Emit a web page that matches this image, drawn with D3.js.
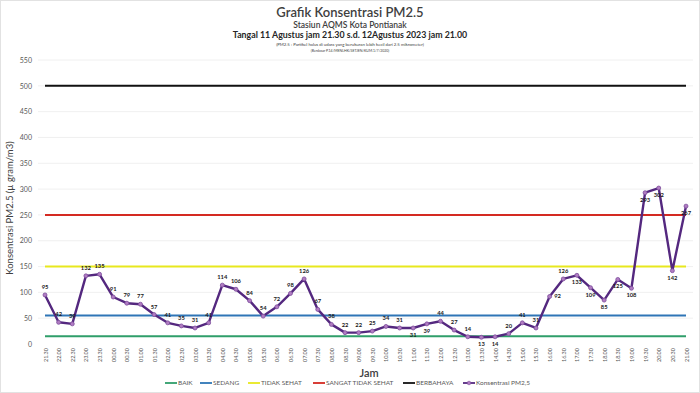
<!DOCTYPE html>
<html>
<head>
<meta charset="utf-8">
<script src="https://cdn.jsdelivr.net/npm/d3@7/dist/d3.min.js"></script>
<style>
  html, body { margin: 0; padding: 0; background: #fff; }
  svg { display: block; font-family: Lato, "Open Sans", sans-serif; }
</style>
</head>
<body>
<svg id="chart" width="700" height="393"></svg>
<script>
// ---- data ----
const times = ["21.30","22.00","22.30","23.00","23.30","00.00","00.30","01.00","01.30","02.00","02.30","03.00","03.30","04.00","04.30","05.00","05.30","06.00","06.30","07.00","07.30","08.00","08.30","09.00","09.30","10.00","10.30","11.00","11.30","12.00","12.30","13.00","13.30","14.00","14.30","15.00","15.30","16.00","16.30","17.00","17.30","18.00","18.30","19.00","19.30","20.00","20.30","21.00"];
const pm25 = [95,42,39,132,135,91,79,77,57,41,35,31,41,114,106,84,54,72,98,126,67,38,22,22,25,34,31,31,39,44,27,14,13,14,20,41,31,92,126,133,109,85,125,108,293,302,142,267];
const thresholdNames = ["BAIK","SEDANG","TIDAK SEHAT","SANGAT TIDAK SEHAT","BERBAHAYA"];
const thresholdValues = [15,55,150,250,500];
const yTicks = [0,50,100,150,200,250,300,350,400,450,500,550];
const seriesName = "Konsentrasi PM2,5";

// label placement (style): t = above, b = below, r = right
const labelPos = ["t","t","t","t","t","t","t","t","t","t","t","t","t","t","t","t","t","t","t","t","t","t","t","t","t","t","t","b","b","t","t","t","b","b","t","t","t","r","t","b","b","b","b","b","b","b","b","b"];

// ---- styles ----
const thresholdColors = ["#2f9e6a","#2e75b6","#e8e81e","#d42a22","#111111"];
const lineColor = "#54287f";
const markerFill = "#b07cc2";
const markerStroke = "#7c4c9c";

const svg = d3.select("#chart");
const W = 700, H = 393;
const plot = {left: 38, right: 693, top: 60, bottom: 344};

svg.append("rect").attr("x",0.5).attr("y",0.5).attr("width",W-1).attr("height",H-1)
  .attr("fill","#fff").attr("stroke","#e2e2e2");

// titles
const tg = svg.append("g").attr("fill","#404040").attr("text-anchor","middle");
tg.append("text").attr("x",350).attr("y",17).attr("font-size",13).attr("font-weight",600).text("Grafik Konsentrasi PM2.5");
tg.append("text").attr("x",350).attr("y",27.5).attr("font-size",8.5).attr("font-weight",600).text("Stasiun AQMS Kota Pontianak");
tg.append("text").attr("x",350).attr("y",38).attr("font-size",8.8).attr("font-weight",700).attr("fill","#262626").text("Tangal 11 Agustus jam  21.30 s.d. 12Agustus 2023 jam 21.00");
tg.append("text").attr("x",350).attr("y",46).attr("font-size",4.3).text("(PM2.5 : Partikel halus di udara yang berukuran lebih kecil dari 2.5 mikrometer)");
tg.append("text").attr("x",350).attr("y",52).attr("font-size",3.5).text("(Berdasar P.14/MENLHK/SETJEN/KUM.1/7/2020)");

// scales
const x = d3.scalePoint().domain(times).range([45, 686]);
const y = d3.scaleLinear().domain([0,550]).range([plot.bottom, plot.top]);

// gridlines
svg.append("g").selectAll("line").data(yTicks.filter(d=>d>0)).join("line")
  .attr("x1",plot.left).attr("x2",plot.right)
  .attr("y1",d=>y(d)).attr("y2",d=>y(d))
  .attr("stroke","#ececec").attr("stroke-width",0.8);

// y axis
const yAxis = d3.axisLeft(y).tickValues(yTicks).tickSize(0).tickPadding(0);
const yg = svg.append("g").attr("transform",`translate(32,0)`).call(yAxis);
yg.select(".domain").remove();
yg.selectAll("text").attr("font-size",7).attr("fill","#595959").attr("font-family","Lato, sans-serif");

// y title
svg.append("text").attr("transform","translate(13,208) rotate(-90)")
  .attr("text-anchor","middle").attr("font-size",9.5).attr("fill","#404040")
  .text("Konsentrasi PM2.5 (µ gram/m3)");

// x axis
const xAxis = d3.axisBottom(x).tickSize(0).tickPadding(0);
const xg = svg.append("g").attr("transform",`translate(0,${plot.bottom})`).call(xAxis);
xg.select(".domain").remove();
xg.selectAll("text")
  .attr("font-size",5.5).attr("fill","#595959").attr("font-family","Lato, sans-serif")
  .attr("text-anchor","end").attr("dy",0)
  .attr("transform","translate(2,4) rotate(-90)");

// x title
svg.append("text").attr("x",369).attr("y",377).attr("text-anchor","middle")
  .attr("font-size",11).attr("font-weight",600).attr("fill","#404040").text("Jam");

// threshold lines
thresholdValues.forEach((v,i)=>{
  svg.append("line").attr("x1",x(times[0])).attr("x2",x(times[times.length-1]))
    .attr("y1",y(v)).attr("y2",y(v))
    .attr("stroke",thresholdColors[i]).attr("stroke-width",2);
});

// series line
const line = d3.line().x((d,i)=>x(times[i])).y(d=>y(d));
svg.append("path").datum(pm25).attr("d",line).attr("fill","none")
  .attr("stroke",lineColor).attr("stroke-width",2.4).attr("stroke-linejoin","round");

svg.append("g").selectAll("circle").data(pm25).join("circle")
  .attr("cx",(d,i)=>x(times[i])).attr("cy",d=>y(d)).attr("r",2)
  .attr("fill",markerFill).attr("stroke",markerStroke).attr("stroke-width",0.8);

// data labels
svg.append("g").selectAll("text").data(pm25).join("text")
  .attr("x",(d,i)=>x(times[i]) + (labelPos[i]==="r"?8:0))
  .attr("y",(d,i)=>y(d) + (labelPos[i]==="t"?-6:labelPos[i]==="b"?9:2))
  .attr("text-anchor","middle").attr("font-size",5.8).attr("font-weight",700).attr("fill","#1a1a1a")
  .text(d=>d);

// legend
const legendItems = thresholdNames.map((n,i)=>({name:n,color:thresholdColors[i],marker:false}))
  .concat([{name:seriesName,color:lineColor,marker:true}]);
const legendX = [165,200,248,313,403,463];
const lg = svg.append("g");
legendItems.forEach((it,i)=>{
  const g = lg.append("g").attr("transform",`translate(${legendX[i]},383)`);
  g.append("line").attr("x1",0).attr("x2",12).attr("y1",0).attr("y2",0)
    .attr("stroke",it.color).attr("stroke-width",1.8);
  if (it.marker) g.append("circle").attr("cx",6).attr("cy",0).attr("r",1.8)
    .attr("fill",markerFill).attr("stroke",markerStroke).attr("stroke-width",0.6);
  g.append("text").attr("x",13).attr("y",2.3).attr("font-size",6.5).attr("fill","#595959").text(it.name);
});
</script>
</body>
</html>
